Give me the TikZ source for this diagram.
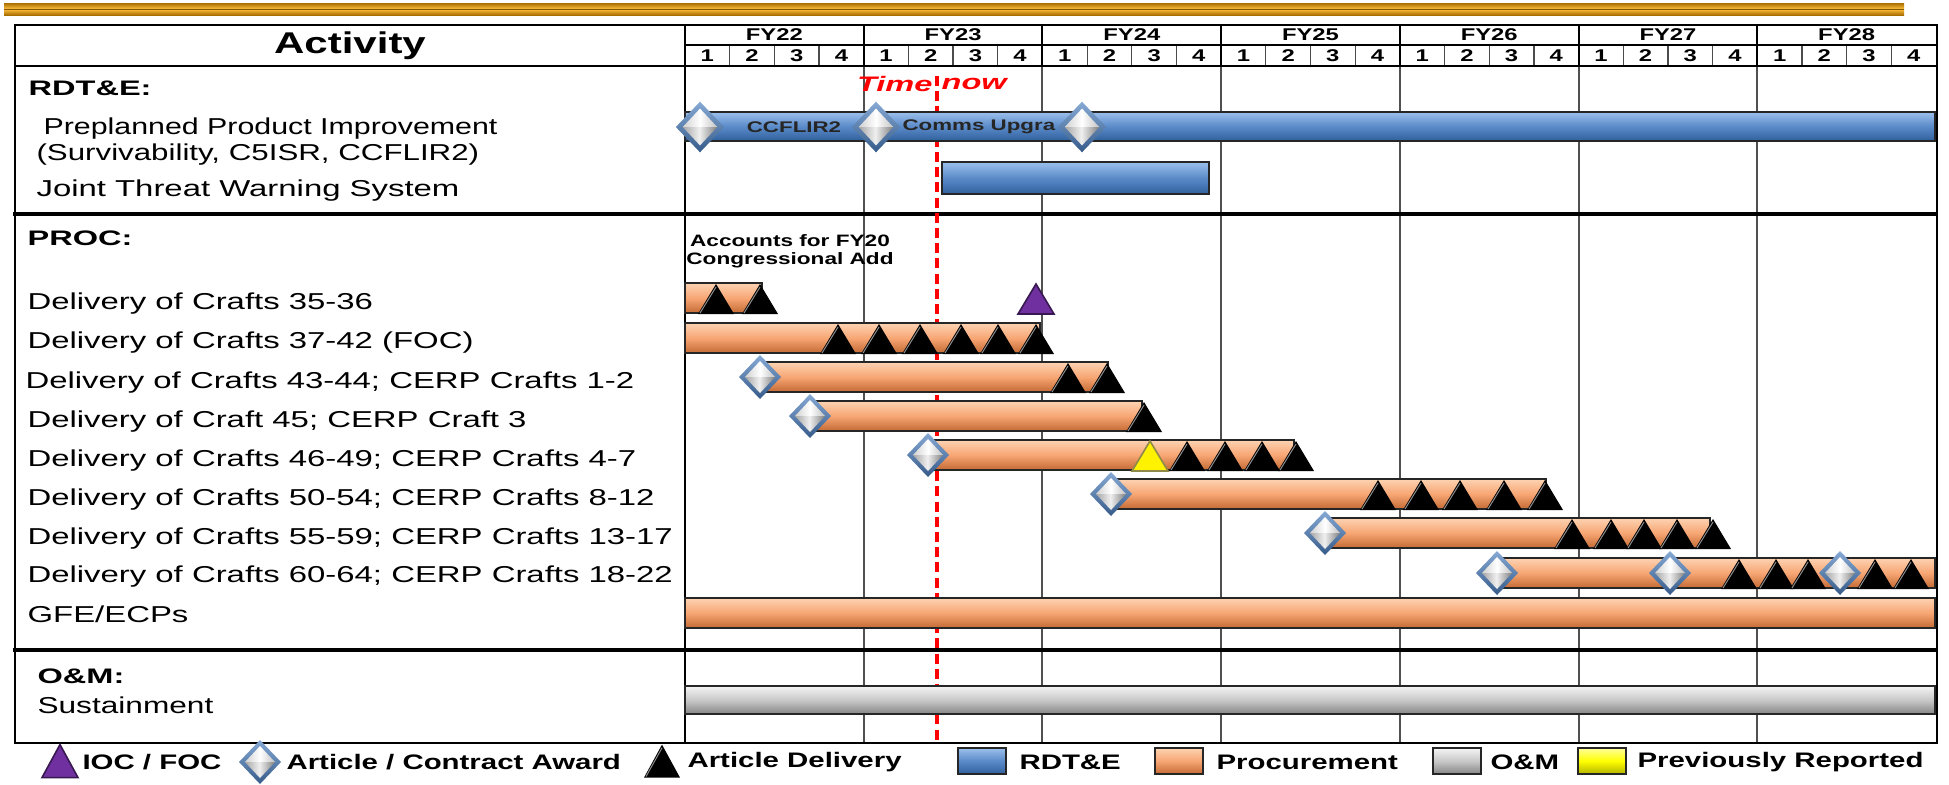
\documentclass[tikz,border=0pt]{standalone}
\usepackage{fontspec}
\setmainfont{Liberation Sans}
\definecolor{goldA}{HTML}{FFC040}
\definecolor{goldB}{HTML}{A86E00}
\definecolor{orTop}{HTML}{FDD3B2}
\definecolor{orMid}{HTML}{F7A674}
\definecolor{orBot}{HTML}{C46A34}
\definecolor{blTop}{HTML}{9CC0EC}
\definecolor{blMid}{HTML}{5A8AC8}
\definecolor{blBot}{HTML}{30609C}
\definecolor{grTop}{HTML}{F4F4F4}
\definecolor{grMid}{HTML}{C8C8C8}
\definecolor{grBot}{HTML}{858585}
\definecolor{dmEdgeT}{HTML}{86A9D4}
\definecolor{dmEdgeB}{HTML}{365B8A}
\definecolor{purp}{HTML}{7030A0}
\definecolor{gridc}{HTML}{505050}
\definecolor{nowred}{HTML}{FF0000}
\begin{document}
\begin{tikzpicture}[x=0.5pt,y=-0.5pt,
  lbl/.style={anchor=west, inner sep=0pt, font=\fontsize{11.5}{13}\selectfont, xscale=1.43},
  sect/.style={anchor=west, inner sep=0pt, font=\bfseries\fontsize{10.5}{12}\selectfont, xscale=1.55},
  hdr/.style={inner sep=0pt, font=\bfseries\fontsize{8.5}{10}\selectfont, xscale=1.4},
  leg/.style={anchor=west, inner sep=0pt, font=\bfseries\fontsize{10.5}{12}\selectfont, xscale=1.4},
  bartxt/.style={inner sep=0pt, font=\bfseries\fontsize{7.7}{9}\selectfont, xscale=1.45, text=black!85},
  obar/.style={draw=black!85, line width=0.9pt, top color=orTop, bottom color=orBot, middle color=orMid},
  bbar/.style={draw=black!85, line width=0.9pt, top color=blTop, bottom color=blBot, middle color=blMid},
  gbar/.style={draw=black!85, line width=0.9pt, top color=grTop, bottom color=grBot, middle color=grMid},
  ybox/.style={draw=black!85, line width=0.9pt, top color=yellow!40, bottom color=yellow!70!black, middle color=yellow},
  pics/dtri/.style={code={
     \fill[black] (-18,16) -- (0,-14) -- (18,16) -- cycle;
     \draw[black!45, line width=0.5pt] (-16,15) -- (0,-11);}},
  pics/ptri/.style={code={
     \fill[purp] (-18,16) -- (0,-14) -- (18,16) -- cycle;
     \draw[purp!50!black, line width=0.8pt] (-18,16) -- (0,-14) -- (18,16) -- cycle;}},
  pics/ytri/.style={code={
     \fill[yellow] (-18,16) -- (0,-14) -- (18,16) -- cycle;
     \draw[yellow!50!black, line width=0.8pt] (-18,16) -- (0,-14) -- (18,16) -- cycle;}},
  pics/dia/.style={code={
     \shade[top color=dmEdgeT, bottom color=dmEdgeB] (0,-22) -- (21,0) -- (0,22) -- (-21,0) -- cycle;
     \shade[left color=black!18, right color=white] (0,-16) -- (-15,0) -- (0,0) -- cycle;
     \shade[left color=white, right color=black!24] (0,-16) -- (15,0) -- (0,0) -- cycle;
     \shade[left color=black!35, right color=black!5] (0,16) -- (-15,0) -- (0,0) -- cycle;
     \shade[left color=black!8, right color=black!50] (0,16) -- (15,0) -- (0,0) -- cycle;}}
]
\useasboundingbox (0,0) rectangle (1949,784);
% gold bar
\shade[top color=goldB, bottom color=goldB, middle color=goldA] (4,3) rectangle (1904,15);
\draw[goldB!80!black, line width=0.4pt] (4,9) -- (1904,9);

% grid: year lines in the body
\foreach \k in {1,...,6}
  \draw[gridc, line width=1pt] ({685+\k*178.714},66) -- ({685+\k*178.714},743);
% header year lines
\foreach \k in {1,...,6}
  \draw[black, line width=1pt] ({685+\k*178.714},25) -- ({685+\k*178.714},66);
% quarter lines
\foreach \k in {0,...,6}
  \foreach \q in {1,2,3}
    \draw[black!70, line width=0.6pt] ({685+\k*178.714+\q*44.679},45) -- ({685+\k*178.714+\q*44.679},66);

% table frame
\draw[line width=1pt] (15,25) rectangle (1937,743);
\draw[line width=1pt] (685,25) -- (685,743);
\draw[line width=0.8pt] (685,45) -- (1937,45);
\draw[line width=1pt] (15,66) -- (1937,66);
\draw[line width=2.2pt] (13,214) -- (1937,214);
\draw[line width=2.2pt] (13,650) -- (1937,650);

% header text
\node[inner sep=0pt, font=\bfseries\fontsize{15}{17}\selectfont, xscale=1.4] (act) at (350,46) {Activity};
\foreach \k/\t in {0/FY22,1/FY23,2/FY24,3/FY25,4/FY26,5/FY27,6/FY28}
  \node[hdr] (fy\k) at ({685+(\k+0.5)*178.714},35) {\t};
\foreach \k in {0,...,6}
  \foreach \q in {1,2,3,4}
    \node[hdr] (q\k\q) at ({685+\k*178.714+(\q-0.5)*44.679},56) {\q};

% time now
\draw[nowred, line width=1.6pt, dash pattern=on 5pt off 2.6pt] (937,76) -- (937,743);
\node[inner sep=0pt, anchor=east, font=\bfseries\itshape\fontsize{10.5}{12}\selectfont, xscale=1.55, text=nowred] (tn1) at (933,84) {Time};
\node[inner sep=0pt, anchor=west, font=\bfseries\itshape\fontsize{10.5}{12}\selectfont, xscale=1.55, text=nowred] (tn2) at (941,84) {now};

% left labels
\node[sect] (srd) at (28,88) {RDT\&E:};
\node[lbl, xscale=1.32/1.43] (l1a) at (43,129) {Preplanned Product Improvement};
\node[lbl, xscale=1.36/1.43] (l1b) at (36,155) {(Survivability, C5ISR, CCFLIR2)};
\node[lbl] (l2) at (36,191) {Joint Threat Warning System};
\node[sect] (spr) at (27,238) {PROC:};
\node[lbl] (p1) at (27,304) {Delivery of Crafts 35-36};
\node[lbl] (p2) at (27,343) {Delivery of Crafts 37-42 (FOC)};
\node[lbl] (p3) at (25,383) {Delivery of Crafts 43-44; CERP Crafts 1-2};
\node[lbl] (p4) at (27,422) {Delivery of Craft 45; CERP Craft 3};
\node[lbl] (p5) at (27,461) {Delivery of Crafts 46-49; CERP Crafts 4-7};
\node[lbl] (p6) at (27,500) {Delivery of Crafts 50-54; CERP Crafts 8-12};
\node[lbl] (p7) at (27,539) {Delivery of Crafts 55-59; CERP Crafts 13-17};
\node[lbl] (p8) at (27,577) {Delivery of Crafts 60-64; CERP Crafts 18-22};
\node[lbl] (p9) at (27,614) {GFE/ECPs};
\node[sect] (som) at (37,676) {O\&M:};
\node[lbl, xscale=1.375/1.43] (sus) at (37,705) {Sustainment};

% RDT&E bars
\path[bbar] (685,112) rectangle (1935,141);
\node[bartxt] (tcc) at (794,127) {CCFLIR2};
\node[bartxt, anchor=west] (tcu) at (902,127) {Comms Upgra};
\pic[scale=1.15] at (700,127) {dia};
\pic[scale=1.15] at (876,127) {dia};
\pic[scale=1.15] at (1082,127) {dia};
\path[bbar] (942,162) rectangle (1209,194);

% PROC
\node[inner sep=0pt, align=center, font=\bfseries\fontsize{8.25}{9}\selectfont, xscale=1.37] (acc) at (790,251) {Accounts for FY20\\Congressional Add};
% row 1
\path[obar] (685,283) rectangle (762,313);
\foreach \x in {716,760} \pic at (\x,298) {dtri};
\pic at (1036,298) {ptri};
% row 2
\path[obar] (685,323) rectangle (1040,353);
\foreach \x in {838,879,920,961,998,1036} \pic at (\x,338) {dtri};
% row 3
\path[obar] (760,362) rectangle (1108,392);
\pic at (760,377) {dia};
\foreach \x in {1068,1107} \pic at (\x,377) {dtri};
% row 4
\path[obar] (810,401) rectangle (1142,431);
\pic at (810,416) {dia};
\pic at (1144,416) {dtri};
% row 5
\path[obar] (928,440) rectangle (1294,470);
\pic at (928,455) {dia};
\pic at (1150,455) {ytri};
\foreach \x in {1187,1225,1262,1296} \pic at (\x,455) {dtri};
% row 6
\path[obar] (1111,479) rectangle (1546,509);
\pic at (1111,494) {dia};
\foreach \x in {1378,1421,1460,1504,1545} \pic at (\x,494) {dtri};
% row 7
\path[obar] (1325,518) rectangle (1710,548);
\pic at (1325,533) {dia};
\foreach \x in {1572,1611,1644,1677,1713} \pic at (\x,533) {dtri};
% row 8
\path[obar] (1497,558) rectangle (1935,588);
\foreach \x in {1739,1776,1808,1875,1911} \pic at (\x,573) {dtri};
\foreach \x in {1497,1670,1840} \pic at (\x,573) {dia};
% row 9
\path[obar] (685,598) rectangle (1935,628);

% O&M
\path[gbar] (685,686) rectangle (1935,714);

% legend
\pic[yscale=1.1] at (60,760) {ptri};
\node[leg] (lg1) at (82,762) {IOC / FOC};
\pic at (260,762) {dia};
\node[leg] (lg2) at (286,762) {Article / Contract Award};
\pic[yscale=1.1] at (662,760) {dtri};
\node[leg] (lg3) at (687,762) {Article Delivery};
\path[bbar] (958,748) rectangle (1006,774);
\node[leg] (lg4) at (1019,762) {RDT\&E};
\path[obar] (1155,748) rectangle (1203,774);
\node[leg] (lg5) at (1216,762) {Procurement};
\path[gbar] (1433,748) rectangle (1481,774);
\node[leg] (lg6) at (1490,762) {O\&M};
\path[ybox] (1578,748) rectangle (1626,774);
\node[leg] (lg7) at (1637,762) {Previously Reported};
\end{tikzpicture}
\end{document}
